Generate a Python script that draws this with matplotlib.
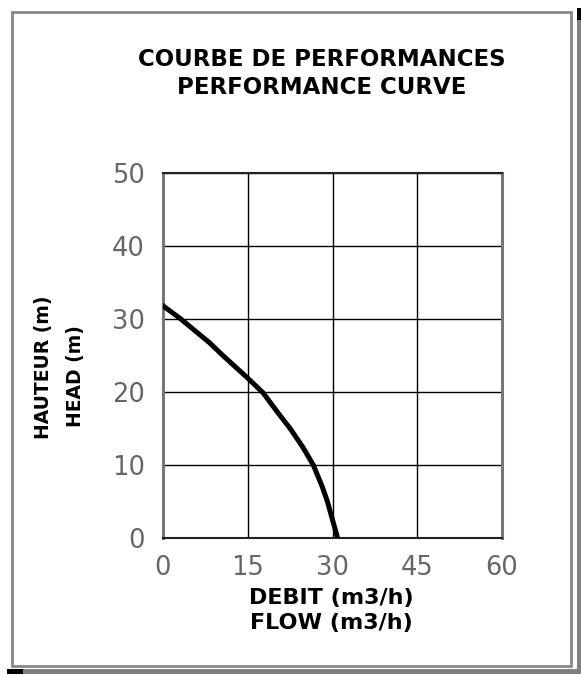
import matplotlib.pyplot as plt
from matplotlib.patches import Rectangle

# performance curve
flow = [0, 3.0, 8.3, 10.6, 15.0, 17.7, 20.3, 22.5, 24.7, 26.6, 28.2, 29.1, 30.0, 30.9]
head = [31.8, 30.1, 26.7, 25.0, 21.9, 19.9, 17.2, 15.0, 12.5, 10.0, 7.0, 5.0, 2.5, 0]
x_ticks = [0, 15, 30, 45, 60]
y_ticks = [0, 10, 20, 30, 40, 50]

W, H = 581, 674
fig = plt.figure(figsize=(W / 100, H / 100), dpi=100)
fig.patch.set_facecolor('white')

# outer frame + the dark edge strips
fig.add_artist(Rectangle((12 / W, 1 - 666 / H), 559 / W, 654 / H, transform=fig.transFigure,
                         fill=False, edgecolor='#888888', lw=2))
fig.add_artist(Rectangle((7 / W, 0), (W - 7) / W, 5 / H, transform=fig.transFigure,
                         facecolor='#808080', edgecolor='none'))
fig.add_artist(Rectangle((7 / W, 0), 16 / W, 5 / H, transform=fig.transFigure,
                         facecolor='black', edgecolor='none'))
fig.add_artist(Rectangle((577 / W, 0), 4 / W, 1 - 8 / H, transform=fig.transFigure,
                         facecolor='#808080', edgecolor='none'))
fig.add_artist(Rectangle((577 / W, 1 - 20 / H), 4 / W, 12 / H, transform=fig.transFigure,
                         facecolor='black', edgecolor='none'))

ax = fig.add_axes([163 / W, 1 - 538 / H, 339 / W, 365 / H])
ax.plot(flow, head, color='black', lw=3.6, solid_joinstyle='round', zorder=3)
ax.set_xlim(0, 60)
ax.set_ylim(0, 50)
ax.set_xticks(x_ticks)
ax.set_yticks(y_ticks)
ax.grid(True, color='black', lw=1)
ax.tick_params(length=0, labelsize=18.5, labelcolor='#666666')
ax.tick_params(axis='x', pad=12.5)
ax.tick_params(axis='y', pad=13)
for s in ['left', 'right']:
    ax.spines[s].set_color('#777777')
    ax.spines[s].set_linewidth(2.2)
for s in ['top', 'bottom']:
    ax.spines[s].set_color('#222222')
    ax.spines[s].set_linewidth(1.5)

bold = dict(fontweight='bold', family='DejaVu Sans', ha='center', va='center')
fig.text(322 / W, 1 - 60 / H, 'COURBE DE PERFORMANCES', fontsize=16.5, **bold)
fig.text(322 / W, 1 - 87 / H, 'PERFORMANCE CURVE', fontsize=16.5, **bold)
fig.text(331 / W, 1 - 598 / H, 'DEBIT (m3/h)', fontsize=16, **bold)
fig.text(331 / W, 1 - 623 / H, 'FLOW (m3/h)', fontsize=16, **bold)
fig.text(43 / W, 1 - 367 / H, 'HAUTEUR (m)', rotation=90, fontsize=13.5, **bold)
fig.text(75 / W, 1 - 376 / H, 'HEAD (m)', rotation=90, fontsize=13.5, **bold)

plt.savefig('out.png', dpi=100)
